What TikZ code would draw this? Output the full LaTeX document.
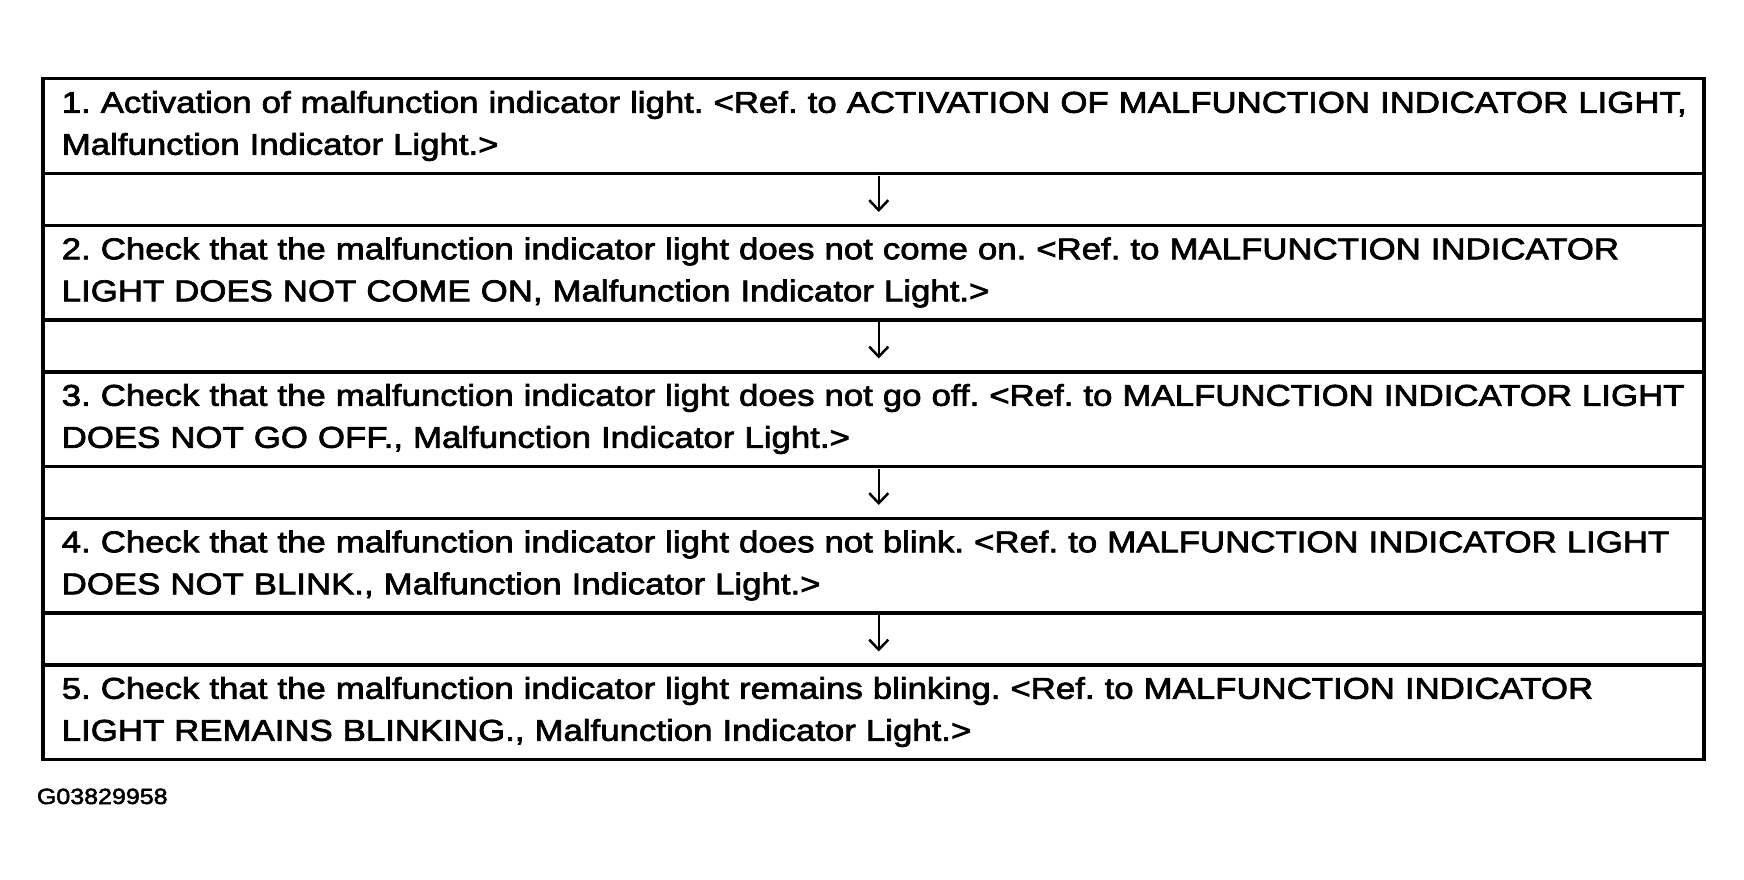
\documentclass[tikz,border=0pt]{standalone}
\usepackage{fontspec}
\setmainfont{Liberation Sans}[FakeStretch=1.16, FakeBold=2.4]
\usetikzlibrary{arrows.meta}
\tikzset{
  stepbox/.style={draw, line width=3.5pt, anchor=north west, minimum width=1661pt,
    minimum height=94.5pt, inner xsep=19pt, inner ysep=0pt, text width=1623pt,
    align=left, font=\fontsize{30}{42}\selectfont},
  gapbox/.style={draw, line width=3.5pt, anchor=north west, minimum width=1661pt,
    minimum height=52pt, inner sep=0pt},
  arr/.style={line width=2.5pt, -{Straight Barb[length=10pt,width=19pt,line width=2.5pt]}},
  idlabel/.style={anchor=base west, inner sep=0pt, font=\fontsize{22}{26}\selectfont}
}
\frenchspacing
\begin{document}
\begin{tikzpicture}[x=1pt,y=-1pt]
\useasboundingbox (0,0) rectangle (1744,880);
\fill[white] (0,0) rectangle (1744,880);
\node[stepbox] (s1) at (41,77) {\mbox{1. Activation of malfunction indicator light. <Ref. to ACTIVATION OF MALFUNCTION INDICATOR LIGHT,}\\\mbox{Malfunction Indicator Light.>}};
\node[gapbox] (g1) at (41,171.5) {};
\node[stepbox] (s2) at (41,223.5) {\mbox{2. Check that the malfunction indicator light does not come on. <Ref. to MALFUNCTION INDICATOR}\\\mbox{LIGHT DOES NOT COME ON, Malfunction Indicator Light.>}};
\node[gapbox] (g2) at (41,318) {};
\node[stepbox] (s3) at (41,370) {\mbox{3. Check that the malfunction indicator light does not go off. <Ref. to MALFUNCTION INDICATOR LIGHT}\\\mbox{DOES NOT GO OFF., Malfunction Indicator Light.>}};
\node[gapbox] (g3) at (41,464.5) {};
\node[stepbox] (s4) at (41,516.5) {\mbox{4. Check that the malfunction indicator light does not blink. <Ref. to MALFUNCTION INDICATOR LIGHT}\\\mbox{DOES NOT BLINK., Malfunction Indicator Light.>}};
\node[gapbox] (g4) at (41,611) {};
\node[stepbox] (s5) at (41,663) {\mbox{5. Check that the malfunction indicator light remains blinking. <Ref. to MALFUNCTION INDICATOR}\\\mbox{LIGHT REMAINS BLINKING., Malfunction Indicator Light.>}};
\foreach \g in {g1,g2,g3,g4}{
  \draw[arr] ([xshift=5.5pt,yshift=-4pt]\g.north) -- ([xshift=5.5pt,yshift=15pt]\g.south);
}
\node[idlabel] (id) at (36.7,804) {\scalebox{0.98}[1]{G03829958}};
\end{tikzpicture}
\end{document}
